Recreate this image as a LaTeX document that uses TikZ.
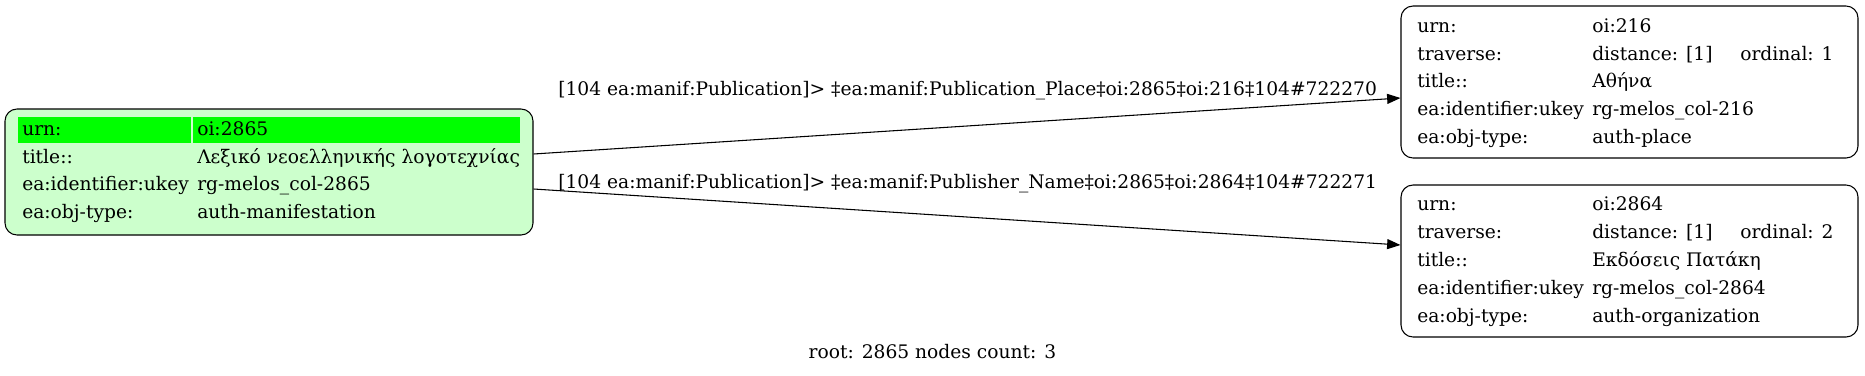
\documentclass[tikz,border=0pt]{standalone}
\usepackage{fontspec}
\setmainfont{DejaVu Serif}
\usetikzlibrary{arrows.meta, calc, positioning}
\usepackage{xcolor}
\definecolor{rootfill}{HTML}{CCFFCC}
\definecolor{urnfill}{HTML}{00FF00}

\begin{document}
\begin{tikzpicture}[x=0.75pt, y=-0.75pt,
  every node/.style={inner sep=0pt, font=\fontsize{14pt}{16pt}\selectfont},
  recbox/.style={draw, rounded corners=9pt, line width=0.8pt},
  cell/.style={anchor=base west},
  link/.style={-{Triangle[length=10pt, width=7.5pt]}, line width=0.8pt},
  linklabel/.style={anchor=base west}]
  \useasboundingbox (0,0) rectangle (1865,375);

  % records
  \node[recbox, fill=rootfill, minimum width=396pt, minimum height=94.5pt]
  (m2865) at (269,172) {};
  \node[recbox, fill=white, minimum width=342.75pt, minimum height=114pt]
  (p216) at (1629.5,82) {};
  \node[recbox, fill=white, minimum width=342.75pt, minimum height=114pt]
  (o2864) at (1629.5,261) {};

  % root urn row
  \fill[urnfill] (18,117) rectangle (190.5,142.5);
  \fill[urnfill] (193,117) rectangle (520,142.5);

  \foreach \k/\v [count=\i] in {urn:/oi:2865,
    title::/Λεξικό νεοελληνικής λογοτεχνίας,
    ea:identifier:ukey/rg-melos\_col-2865,
    ea:obj-type:/auth-manifestation}{
    \node[cell] (m2865-k\i) at (22,107.8+27.7*\i) {\k};
    \node[cell] (m2865-v\i) at (197,107.8+27.7*\i) {\v};
  }

  \foreach \k/\v [count=\i] in {urn:/oi:216,
    traverse:/distance: [1],
    title::/Αθήνα,
    ea:identifier:ukey/rg-melos\_col-216,
    ea:obj-type:/auth-place}{
    \node[cell] (p216-k\i) at (1417,4.6+27.7*\i) {\k};
    \node[cell] (p216-v\i) at (1592,4.6+27.7*\i) {\v};
  }
  \node[cell] (p216-ord) at (1740,60) {ordinal: 1};

  \foreach \k/\v [count=\i] in {urn:/oi:2864,
    traverse:/distance: [1],
    title::/Εκδόσεις Πατάκη,
    ea:identifier:ukey/rg-melos\_col-2864,
    ea:obj-type:/auth-organization}{
    \node[cell] (o2864-k\i) at (1417,183+27.8*\i) {\k};
    \node[cell] (o2864-v\i) at (1592,183+27.8*\i) {\v};
  }
  \node[cell] (o2864-ord) at (1740,238.6) {ordinal: 2};

  % links
  \draw[link] ([yshift=13.5pt]m2865.east) -- ([yshift=-12pt]p216.west);
  \draw[link] ([yshift=-12.75pt]m2865.east) -- ([yshift=12pt]o2864.west);
  \node[linklabel] (l216) at (558,95)
  {[104 ea:manif:Publication]> ‡ea:manif:Publication\_Place‡oi:2865‡oi:216‡104\#722270};
  \node[linklabel] (l2864) at (558,188)
  {[104 ea:manif:Publication]> ‡ea:manif:Publisher\_Name‡oi:2865‡oi:2864‡104\#722271};

  \node[anchor=base] (caption) at (932.5,358) {root: 2865 nodes count: 3};
\end{tikzpicture}
\end{document}
